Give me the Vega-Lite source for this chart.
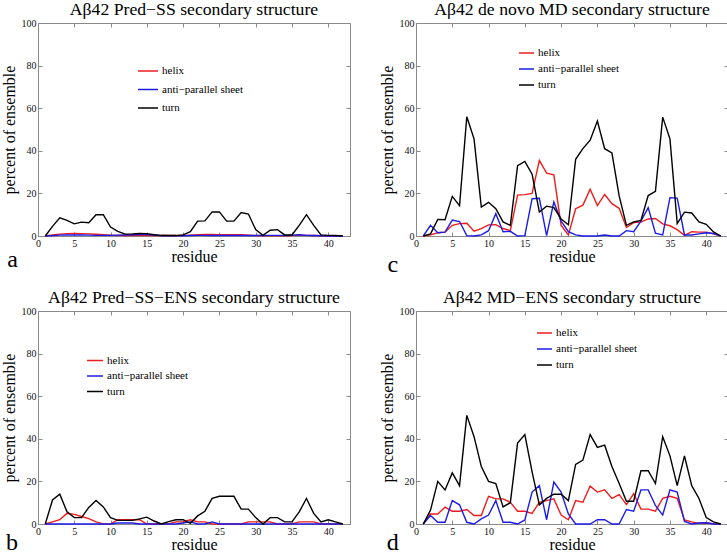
{
 "$schema": "https://vega.github.io/schema/vega-lite/v6.json",
 "padding": {"left": 0, "top": 0, "right": 0, "bottom": 0},
 "background": "white",
 "config": {
  "font": "Liberation Serif",
  "view": {"stroke": "#8a8a8a", "strokeWidth": 1},
  "axis": {"labelFont": "Liberation Serif", "labelFontSize": 10, "labelColor": "#111", "titleFont": "Liberation Serif", "titleFontSize": 16, "titleFontWeight": "normal", "titleColor": "#000", "domainColor": "#8a8a8a", "tickColor": "#8a8a8a", "tickSize": -4, "grid": false, "labelFlush": false, "labelOverlap": false, "labelPadding": 6},
  "axisX": {"titlePadding": 0},
  "axisY": {"titlePadding": 4},
  "title": {"font": "Liberation Serif", "fontSize": 17.7, "fontWeight": "normal", "color": "#000", "offset": -1},
  "legend": {"labelFont": "Liberation Serif", "labelFontSize": 11, "labelColor": "#000", "padding": 0, "labelOffset": 3, "symbolStrokeWidth": 1.5, "symbolType": "stroke"}
 },
 "datasets": {
  "ss": [
   {"p":"a","r":1,"helix":0,"anti−parallel sheet":0,"turn":0},
   {"p":"a","r":2,"helix":0.5,"anti−parallel sheet":0.2,"turn":4.5},
   {"p":"a","r":3,"helix":0.9,"anti−parallel sheet":0.4,"turn":8.5},
   {"p":"a","r":4,"helix":1.1,"anti−parallel sheet":0.5,"turn":7.3},
   {"p":"a","r":5,"helix":1.2,"anti−parallel sheet":0.5,"turn":5.7},
   {"p":"a","r":6,"helix":1.1,"anti−parallel sheet":0.5,"turn":6.5},
   {"p":"a","r":7,"helix":1,"anti−parallel sheet":0.4,"turn":6.2},
   {"p":"a","r":8,"helix":0.8,"anti−parallel sheet":0.3,"turn":10},
   {"p":"a","r":9,"helix":0.6,"anti−parallel sheet":0.3,"turn":10},
   {"p":"a","r":10,"helix":0.4,"anti−parallel sheet":0.3,"turn":4.2},
   {"p":"a","r":11,"helix":0.3,"anti−parallel sheet":0.4,"turn":2.2},
   {"p":"a","r":12,"helix":0.2,"anti−parallel sheet":0.5,"turn":0.9},
   {"p":"a","r":13,"helix":0.2,"anti−parallel sheet":0.6,"turn":1},
   {"p":"a","r":14,"helix":0.2,"anti−parallel sheet":0.7,"turn":1.2},
   {"p":"a","r":15,"helix":0.2,"anti−parallel sheet":0.7,"turn":1.1},
   {"p":"a","r":16,"helix":0.2,"anti−parallel sheet":0.5,"turn":0.6},
   {"p":"a","r":17,"helix":0.2,"anti−parallel sheet":0.2,"turn":0.2},
   {"p":"a","r":18,"helix":0.2,"anti−parallel sheet":0.1,"turn":0.2},
   {"p":"a","r":19,"helix":0.2,"anti−parallel sheet":0.1,"turn":0.2},
   {"p":"a","r":20,"helix":0.2,"anti−parallel sheet":0.1,"turn":0.5},
   {"p":"a","r":21,"helix":0.4,"anti−parallel sheet":0.2,"turn":2},
   {"p":"a","r":22,"helix":0.6,"anti−parallel sheet":0.3,"turn":7},
   {"p":"a","r":23,"helix":0.7,"anti−parallel sheet":0.3,"turn":7.1},
   {"p":"a","r":24,"helix":0.7,"anti−parallel sheet":0.2,"turn":11.3},
   {"p":"a","r":25,"helix":0.6,"anti−parallel sheet":0.2,"turn":11.3},
   {"p":"a","r":26,"helix":0.6,"anti−parallel sheet":0.2,"turn":7},
   {"p":"a","r":27,"helix":0.6,"anti−parallel sheet":0.2,"turn":7},
   {"p":"a","r":28,"helix":0.6,"anti−parallel sheet":0.2,"turn":11},
   {"p":"a","r":29,"helix":0.4,"anti−parallel sheet":0.2,"turn":10.3},
   {"p":"a","r":30,"helix":0.2,"anti−parallel sheet":0.2,"turn":3},
   {"p":"a","r":31,"helix":0.1,"anti−parallel sheet":0.2,"turn":0.3},
   {"p":"a","r":32,"helix":0.1,"anti−parallel sheet":0.3,"turn":2.7},
   {"p":"a","r":33,"helix":0.1,"anti−parallel sheet":0.3,"turn":3},
   {"p":"a","r":34,"helix":0.1,"anti−parallel sheet":0.2,"turn":0.5},
   {"p":"a","r":35,"helix":0.2,"anti−parallel sheet":0.4,"turn":0.5},
   {"p":"a","r":36,"helix":0.4,"anti−parallel sheet":0.6,"turn":5},
   {"p":"a","r":37,"helix":0.3,"anti−parallel sheet":0.3,"turn":10},
   {"p":"a","r":38,"helix":0.2,"anti−parallel sheet":0.2,"turn":5},
   {"p":"a","r":39,"helix":0.1,"anti−parallel sheet":0.1,"turn":0.5},
   {"p":"a","r":40,"helix":0,"anti−parallel sheet":0,"turn":0.3},
   {"p":"a","r":41,"helix":0,"anti−parallel sheet":0,"turn":0.2},
   {"p":"a","r":42,"helix":0,"anti−parallel sheet":0,"turn":0},
   {"p":"b","r":1,"helix":0,"anti−parallel sheet":0,"turn":0},
   {"p":"b","r":2,"helix":1,"anti−parallel sheet":0,"turn":11.3},
   {"p":"b","r":3,"helix":2,"anti−parallel sheet":0,"turn":14},
   {"p":"b","r":4,"helix":5,"anti−parallel sheet":0,"turn":5.7},
   {"p":"b","r":5,"helix":4.5,"anti−parallel sheet":0,"turn":3},
   {"p":"b","r":6,"helix":3.5,"anti−parallel sheet":0,"turn":3},
   {"p":"b","r":7,"helix":2.5,"anti−parallel sheet":0,"turn":7.8},
   {"p":"b","r":8,"helix":1,"anti−parallel sheet":0,"turn":11},
   {"p":"b","r":9,"helix":0,"anti−parallel sheet":0,"turn":8},
   {"p":"b","r":10,"helix":0,"anti−parallel sheet":0,"turn":3},
   {"p":"b","r":11,"helix":2,"anti−parallel sheet":0.5,"turn":1.7},
   {"p":"b","r":12,"helix":2,"anti−parallel sheet":0.5,"turn":1.7},
   {"p":"b","r":13,"helix":2,"anti−parallel sheet":0.5,"turn":1.7},
   {"p":"b","r":14,"helix":2,"anti−parallel sheet":0,"turn":2.4},
   {"p":"b","r":15,"helix":0,"anti−parallel sheet":0,"turn":3.2},
   {"p":"b","r":16,"helix":0,"anti−parallel sheet":0,"turn":1.4},
   {"p":"b","r":17,"helix":0,"anti−parallel sheet":0,"turn":0},
   {"p":"b","r":18,"helix":0,"anti−parallel sheet":0,"turn":1.1},
   {"p":"b","r":19,"helix":1,"anti−parallel sheet":0,"turn":2},
   {"p":"b","r":20,"helix":1,"anti−parallel sheet":0.5,"turn":2},
   {"p":"b","r":21,"helix":2,"anti−parallel sheet":1,"turn":0.3},
   {"p":"b","r":22,"helix":1,"anti−parallel sheet":0,"turn":3.8},
   {"p":"b","r":23,"helix":1,"anti−parallel sheet":0,"turn":6},
   {"p":"b","r":24,"helix":0,"anti−parallel sheet":1,"turn":12},
   {"p":"b","r":25,"helix":0,"anti−parallel sheet":0,"turn":13},
   {"p":"b","r":26,"helix":0,"anti−parallel sheet":0,"turn":13},
   {"p":"b","r":27,"helix":0,"anti−parallel sheet":0,"turn":13},
   {"p":"b","r":28,"helix":0,"anti−parallel sheet":0,"turn":7},
   {"p":"b","r":29,"helix":1,"anti−parallel sheet":0,"turn":7},
   {"p":"b","r":30,"helix":1,"anti−parallel sheet":0,"turn":3},
   {"p":"b","r":31,"helix":1,"anti−parallel sheet":0,"turn":0},
   {"p":"b","r":32,"helix":1,"anti−parallel sheet":0,"turn":3},
   {"p":"b","r":33,"helix":0,"anti−parallel sheet":0,"turn":3},
   {"p":"b","r":34,"helix":0,"anti−parallel sheet":0,"turn":1},
   {"p":"b","r":35,"helix":0,"anti−parallel sheet":0,"turn":1},
   {"p":"b","r":36,"helix":1,"anti−parallel sheet":0,"turn":5.7},
   {"p":"b","r":37,"helix":1,"anti−parallel sheet":0,"turn":12},
   {"p":"b","r":38,"helix":1,"anti−parallel sheet":0,"turn":5},
   {"p":"b","r":39,"helix":0,"anti−parallel sheet":0,"turn":1},
   {"p":"b","r":40,"helix":0,"anti−parallel sheet":0,"turn":2},
   {"p":"b","r":41,"helix":0,"anti−parallel sheet":0,"turn":1},
   {"p":"b","r":42,"helix":0,"anti−parallel sheet":0,"turn":0},
   {"p":"c","r":1,"helix":0,"anti−parallel sheet":0,"turn":0},
   {"p":"c","r":2,"helix":0.5,"anti−parallel sheet":5,"turn":1},
   {"p":"c","r":3,"helix":1.5,"anti−parallel sheet":1.5,"turn":7.8},
   {"p":"c","r":4,"helix":1.8,"anti−parallel sheet":1.8,"turn":7.6},
   {"p":"c","r":5,"helix":5,"anti−parallel sheet":7.5,"turn":18.6},
   {"p":"c","r":6,"helix":5.8,"anti−parallel sheet":6.8,"turn":14.2},
   {"p":"c","r":7,"helix":6,"anti−parallel sheet":0.2,"turn":56},
   {"p":"c","r":8,"helix":2.3,"anti−parallel sheet":0,"turn":45.6},
   {"p":"c","r":9,"helix":3.5,"anti−parallel sheet":0.5,"turn":13.6},
   {"p":"c","r":10,"helix":5.2,"anti−parallel sheet":2.5,"turn":15.8},
   {"p":"c","r":11,"helix":5.3,"anti−parallel sheet":10.5,"turn":12.8},
   {"p":"c","r":12,"helix":3.5,"anti−parallel sheet":2,"turn":6.6},
   {"p":"c","r":13,"helix":2.5,"anti−parallel sheet":2.2,"turn":5},
   {"p":"c","r":14,"helix":19.2,"anti−parallel sheet":0,"turn":33},
   {"p":"c","r":15,"helix":19.4,"anti−parallel sheet":0.2,"turn":35},
   {"p":"c","r":16,"helix":20,"anti−parallel sheet":17.5,"turn":29},
   {"p":"c","r":17,"helix":35.5,"anti−parallel sheet":17.7,"turn":11.3},
   {"p":"c","r":18,"helix":29.5,"anti−parallel sheet":0.2,"turn":14},
   {"p":"c","r":19,"helix":28.7,"anti−parallel sheet":16,"turn":13.3},
   {"p":"c","r":20,"helix":5,"anti−parallel sheet":7,"turn":8},
   {"p":"c","r":21,"helix":0.5,"anti−parallel sheet":2,"turn":5.3},
   {"p":"c","r":22,"helix":12.8,"anti−parallel sheet":0.5,"turn":36},
   {"p":"c","r":23,"helix":14.5,"anti−parallel sheet":0,"turn":41},
   {"p":"c","r":24,"helix":22,"anti−parallel sheet":0,"turn":45},
   {"p":"c","r":25,"helix":14.3,"anti−parallel sheet":0,"turn":54},
   {"p":"c","r":26,"helix":19.5,"anti−parallel sheet":0.5,"turn":41},
   {"p":"c","r":27,"helix":15.2,"anti−parallel sheet":0,"turn":39},
   {"p":"c","r":28,"helix":13,"anti−parallel sheet":0,"turn":18.8},
   {"p":"c","r":29,"helix":4,"anti−parallel sheet":2.5,"turn":5},
   {"p":"c","r":30,"helix":6.3,"anti−parallel sheet":2,"turn":6.6},
   {"p":"c","r":31,"helix":6.5,"anti−parallel sheet":7,"turn":7.3},
   {"p":"c","r":32,"helix":8,"anti−parallel sheet":13.3,"turn":19},
   {"p":"c","r":33,"helix":8.2,"anti−parallel sheet":1.3,"turn":21},
   {"p":"c","r":34,"helix":5.7,"anti−parallel sheet":0.5,"turn":55.8},
   {"p":"c","r":35,"helix":4.8,"anti−parallel sheet":18,"turn":45.6},
   {"p":"c","r":36,"helix":3,"anti−parallel sheet":17.8,"turn":5.8},
   {"p":"c","r":37,"helix":0.3,"anti−parallel sheet":0.5,"turn":11.2},
   {"p":"c","r":38,"helix":2,"anti−parallel sheet":0.5,"turn":10.8},
   {"p":"c","r":39,"helix":1.8,"anti−parallel sheet":1,"turn":6.6},
   {"p":"c","r":40,"helix":1.8,"anti−parallel sheet":1.5,"turn":5.5},
   {"p":"c","r":41,"helix":1,"anti−parallel sheet":1.2,"turn":1.9},
   {"p":"c","r":42,"helix":0,"anti−parallel sheet":0,"turn":0},
   {"p":"d","r":1,"helix":0,"anti−parallel sheet":0,"turn":0},
   {"p":"d","r":2,"helix":4.7,"anti−parallel sheet":4,"turn":6.5},
   {"p":"d","r":3,"helix":4.7,"anti−parallel sheet":0.8,"turn":20},
   {"p":"d","r":4,"helix":7.9,"anti−parallel sheet":0.8,"turn":16},
   {"p":"d","r":5,"helix":6,"anti−parallel sheet":11,"turn":24},
   {"p":"d","r":6,"helix":6,"anti−parallel sheet":9,"turn":18},
   {"p":"d","r":7,"helix":6.8,"anti−parallel sheet":0.8,"turn":51},
   {"p":"d","r":8,"helix":4,"anti−parallel sheet":0,"turn":41},
   {"p":"d","r":9,"helix":4,"anti−parallel sheet":2.4,"turn":27},
   {"p":"d","r":10,"helix":13,"anti−parallel sheet":4.2,"turn":20},
   {"p":"d","r":11,"helix":11.8,"anti−parallel sheet":11,"turn":19},
   {"p":"d","r":12,"helix":11.8,"anti−parallel sheet":0.8,"turn":8},
   {"p":"d","r":13,"helix":10.2,"anti−parallel sheet":0.8,"turn":10},
   {"p":"d","r":14,"helix":6,"anti−parallel sheet":0,"turn":38},
   {"p":"d","r":15,"helix":6,"anti−parallel sheet":1.9,"turn":42},
   {"p":"d","r":16,"helix":5,"anti−parallel sheet":15,"turn":24.5},
   {"p":"d","r":17,"helix":10.2,"anti−parallel sheet":18,"turn":9},
   {"p":"d","r":18,"helix":11,"anti−parallel sheet":2,"turn":12},
   {"p":"d","r":19,"helix":11.8,"anti−parallel sheet":19.7,"turn":14},
   {"p":"d","r":20,"helix":4.2,"anti−parallel sheet":15,"turn":14},
   {"p":"d","r":21,"helix":2,"anti−parallel sheet":4.7,"turn":11},
   {"p":"d","r":22,"helix":11,"anti−parallel sheet":0,"turn":28},
   {"p":"d","r":23,"helix":10.2,"anti−parallel sheet":0,"turn":30},
   {"p":"d","r":24,"helix":17.8,"anti−parallel sheet":0,"turn":42},
   {"p":"d","r":25,"helix":15,"anti−parallel sheet":2,"turn":36},
   {"p":"d","r":26,"helix":16,"anti−parallel sheet":2,"turn":37},
   {"p":"d","r":27,"helix":12,"anti−parallel sheet":0,"turn":27},
   {"p":"d","r":28,"helix":13.8,"anti−parallel sheet":0,"turn":19},
   {"p":"d","r":29,"helix":9.1,"anti−parallel sheet":6.8,"turn":10.7},
   {"p":"d","r":30,"helix":14.2,"anti−parallel sheet":6,"turn":10.7},
   {"p":"d","r":31,"helix":7,"anti−parallel sheet":16,"turn":25},
   {"p":"d","r":32,"helix":7,"anti−parallel sheet":16,"turn":25},
   {"p":"d","r":33,"helix":6,"anti−parallel sheet":8.7,"turn":19},
   {"p":"d","r":34,"helix":12,"anti−parallel sheet":4.2,"turn":41},
   {"p":"d","r":35,"helix":13,"anti−parallel sheet":16,"turn":32},
   {"p":"d","r":36,"helix":12,"anti−parallel sheet":15,"turn":18},
   {"p":"d","r":37,"helix":1.9,"anti−parallel sheet":1.2,"turn":32},
   {"p":"d","r":38,"helix":1,"anti−parallel sheet":0,"turn":18},
   {"p":"d","r":39,"helix":0.3,"anti−parallel sheet":0.5,"turn":12},
   {"p":"d","r":40,"helix":0.5,"anti−parallel sheet":0.6,"turn":3},
   {"p":"d","r":41,"helix":0.2,"anti−parallel sheet":0,"turn":1},
   {"p":"d","r":42,"helix":0,"anti−parallel sheet":0,"turn":0}
  ]
 },
 "columns": 2,
 "bounds": "flush",
 "spacing": {"row": 75, "column": 66},
 "resolve": {"scale": {"color": "independent"}, "legend": {"color": "independent"}},
 "concat": [
  {
   "width": 312, "height": 213,
   "title": "Aβ42 Pred−SS secondary structure",
   "layer": [
    {
     "data": {"name": "ss"},
     "transform": [{"filter": "datum.p === 'a'"}, {"fold": ["helix", "anti−parallel sheet", "turn"], "as": ["type", "value"]}],
     "mark": {"type": "line", "strokeWidth": 1.4},
     "encoding": {
      "x": {"field": "r", "type": "quantitative", "scale": {"domain": [0, 43], "nice": false}, "axis": {"values": [0,5,10,15,20,25,30,35,40], "title": "residue"}},
      "y": {"field": "value", "type": "quantitative", "scale": {"domain": [0, 100]}, "axis": {"values": [0,20,40,60,80,100], "title": "percent of ensemble"}},
      "color": {"field": "type", "type": "nominal", "scale": {"domain": ["helix", "anti−parallel sheet", "turn"], "range": ["#ee1c1c", "#1c1ce6", "#000000"]}, "legend": {"orient": "none", "legendX": 99, "legendY": 37, "title": null, "symbolSize": 400, "rowPadding": 2.5}}
     }
    },
    {
     "data": {"values": [{"letter": "a"}]},
     "mark": {"type": "text", "fontSize": 24, "font": "Liberation Serif", "baseline": "middle", "align": "center", "color": "#000"},
     "encoding": {
      "x": {"datum": -3.5, "type": "quantitative", "scale": {"domain": [0, 43], "nice": false}, "axis": {"orient": "top", "labels": false, "title": null, "domain": false, "values": [0,5,10,15,20,25,30,35,40]}},
      "y": {"datum": -11.3, "type": "quantitative", "scale": {"domain": [0, 100]}, "axis": {"orient": "right", "labels": false, "title": null, "domain": false, "values": [0,20,40,60,80,100]}},
      "text": {"field": "letter"}
     }
    }
   ],
   "resolve": {"axis": {"x": "independent", "y": "independent"}}
  },
  {
   "width": 312, "height": 213,
   "title": "Aβ42 de novo MD secondary structure",
   "layer": [
    {
     "data": {"name": "ss"},
     "transform": [{"filter": "datum.p === 'c'"}, {"fold": ["helix", "anti−parallel sheet", "turn"], "as": ["type", "value"]}],
     "mark": {"type": "line", "strokeWidth": 1.4},
     "encoding": {
      "x": {"field": "r", "type": "quantitative", "scale": {"domain": [0, 43], "nice": false}, "axis": {"values": [0,5,10,15,20,25,30,35,40], "title": "residue"}},
      "y": {"field": "value", "type": "quantitative", "scale": {"domain": [0, 100]}, "axis": {"values": [0,20,40,60,80,100], "title": "percent of ensemble"}},
      "color": {"field": "type", "type": "nominal", "scale": {"domain": ["helix", "anti−parallel sheet", "turn"], "range": ["#ee1c1c", "#1c1ce6", "#000000"]}, "legend": {"orient": "none", "legendX": 102, "legendY": 21.5, "title": null, "symbolSize": 225, "rowPadding": 2}}
     }
    },
    {
     "data": {"values": [{"letter": "c"}]},
     "mark": {"type": "text", "fontSize": 24, "font": "Liberation Serif", "baseline": "middle", "align": "center", "color": "#000"},
     "encoding": {
      "x": {"datum": -3.2, "type": "quantitative", "scale": {"domain": [0, 43], "nice": false}, "axis": {"orient": "top", "labels": false, "title": null, "domain": false, "values": [0,5,10,15,20,25,30,35,40]}},
      "y": {"datum": -13.5, "type": "quantitative", "scale": {"domain": [0, 100]}, "axis": {"orient": "right", "labels": false, "title": null, "domain": false, "values": [0,20,40,60,80,100]}},
      "text": {"field": "letter"}
     }
    }
   ],
   "resolve": {"axis": {"x": "independent", "y": "independent"}}
  },
  {
   "width": 312, "height": 213,
   "title": "Aβ42 Pred−SS−ENS secondary structure",
   "layer": [
    {
     "data": {"name": "ss"},
     "transform": [{"filter": "datum.p === 'b'"}, {"fold": ["helix", "anti−parallel sheet", "turn"], "as": ["type", "value"]}],
     "mark": {"type": "line", "strokeWidth": 1.4},
     "encoding": {
      "x": {"field": "r", "type": "quantitative", "scale": {"domain": [0, 43], "nice": false}, "axis": {"values": [0,5,10,15,20,25,30,35,40], "title": "residue"}},
      "y": {"field": "value", "type": "quantitative", "scale": {"domain": [0, 100]}, "axis": {"values": [0,20,40,60,80,100], "title": "percent of ensemble"}},
      "color": {"field": "type", "type": "nominal", "scale": {"domain": ["helix", "anti−parallel sheet", "turn"], "range": ["#ee1c1c", "#1c1ce6", "#000000"]}, "legend": {"orient": "none", "legendX": 48, "legendY": 40.5, "title": null, "symbolSize": 256, "rowPadding": 1.5}}
     }
    },
    {
     "data": {"values": [{"letter": "b"}]},
     "mark": {"type": "text", "fontSize": 24, "font": "Liberation Serif", "baseline": "middle", "align": "center", "color": "#000"},
     "encoding": {
      "x": {"datum": -3.6, "type": "quantitative", "scale": {"domain": [0, 43], "nice": false}, "axis": {"orient": "top", "labels": false, "title": null, "domain": false, "values": [0,5,10,15,20,25,30,35,40]}},
      "y": {"datum": -8.8, "type": "quantitative", "scale": {"domain": [0, 100]}, "axis": {"orient": "right", "labels": false, "title": null, "domain": false, "values": [0,20,40,60,80,100]}},
      "text": {"field": "letter"}
     }
    }
   ],
   "resolve": {"axis": {"x": "independent", "y": "independent"}}
  },
  {
   "width": 312, "height": 213,
   "title": "Aβ42 MD−ENS secondary structure",
   "layer": [
    {
     "data": {"name": "ss"},
     "transform": [{"filter": "datum.p === 'd'"}, {"fold": ["helix", "anti−parallel sheet", "turn"], "as": ["type", "value"]}],
     "mark": {"type": "line", "strokeWidth": 1.4},
     "encoding": {
      "x": {"field": "r", "type": "quantitative", "scale": {"domain": [0, 43], "nice": false}, "axis": {"values": [0,5,10,15,20,25,30,35,40], "title": "residue"}},
      "y": {"field": "value", "type": "quantitative", "scale": {"domain": [0, 100]}, "axis": {"values": [0,20,40,60,80,100], "title": "percent of ensemble"}},
      "color": {"field": "type", "type": "nominal", "scale": {"domain": ["helix", "anti−parallel sheet", "turn"], "range": ["#ee1c1c", "#1c1ce6", "#000000"]}, "legend": {"orient": "none", "legendX": 120, "legendY": 13.5, "title": null, "symbolSize": 225, "rowPadding": 2}}
     }
    },
    {
     "data": {"values": [{"letter": "d"}]},
     "mark": {"type": "text", "fontSize": 24, "font": "Liberation Serif", "baseline": "middle", "align": "center", "color": "#000"},
     "encoding": {
      "x": {"datum": -3.2, "type": "quantitative", "scale": {"domain": [0, 43], "nice": false}, "axis": {"orient": "top", "labels": false, "title": null, "domain": false, "values": [0,5,10,15,20,25,30,35,40]}},
      "y": {"datum": -8.8, "type": "quantitative", "scale": {"domain": [0, 100]}, "axis": {"orient": "right", "labels": false, "title": null, "domain": false, "values": [0,20,40,60,80,100]}},
      "text": {"field": "letter"}
     }
    }
   ],
   "resolve": {"axis": {"x": "independent", "y": "independent"}}
  }
 ]
}
